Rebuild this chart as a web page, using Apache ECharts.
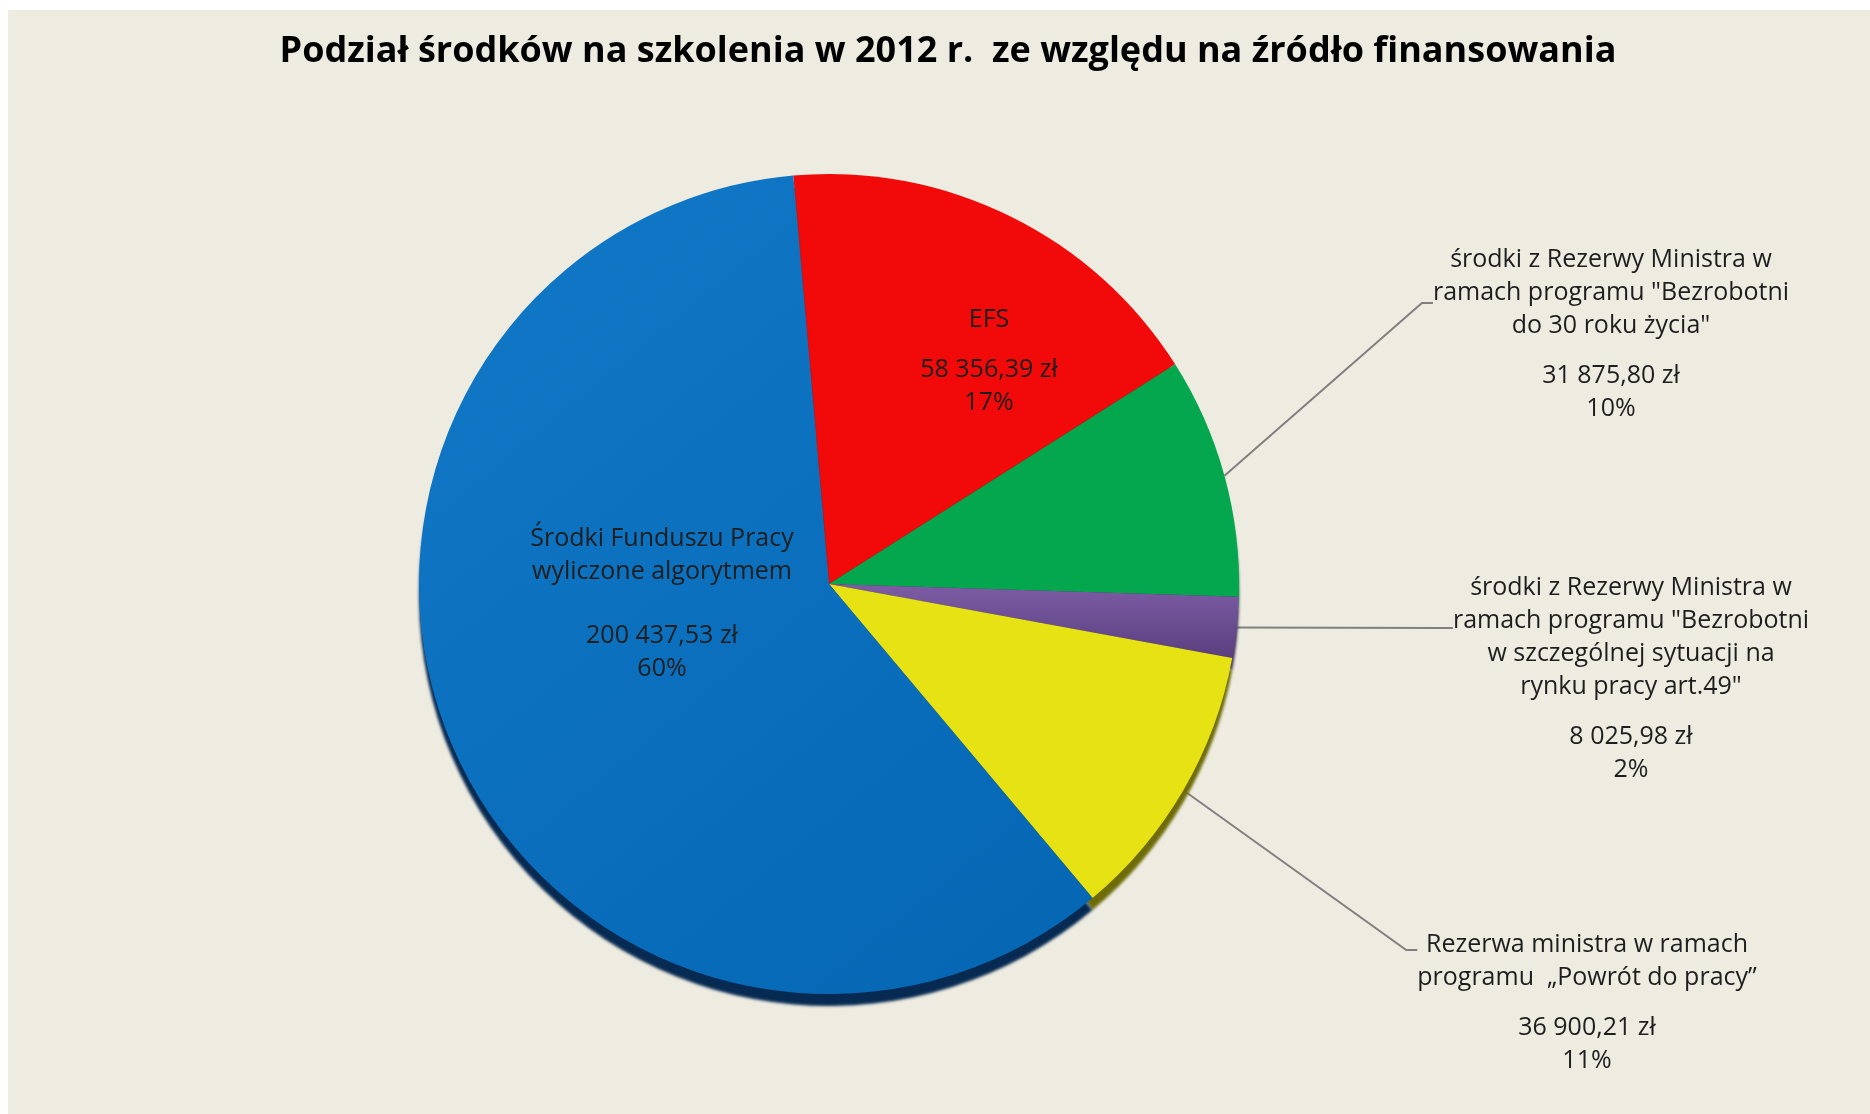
<!DOCTYPE html>
<html>
<head>
<meta charset="utf-8">
<script src="https://cdn.jsdelivr.net/npm/echarts@6/dist/echarts.min.js"></script>
<style>
html,body{margin:0;padding:0;background:#ffffff;width:1870px;height:1114px;overflow:hidden}
#bg{position:absolute;left:8px;top:10px;right:0;bottom:0;background:#eeece1}
#chart{position:absolute;left:0;top:0;width:1870px;height:1114px}
</style>
</head>
<body>
<div id="bg"></div>
<div id="chart"></div>
<script>
// ---- data ----
const titleText = 'Podział środków na szkolenia w 2012 r.  ze względu na źródło finansowania';
const categories = [
  'EFS',
  'środki z Rezerwy Ministra w ramach programu "Bezrobotni do 30 roku życia"',
  'środki z Rezerwy Ministra w ramach programu "Bezrobotni w szczególnej sytuacji na rynku pracy art.49"',
  'Rezerwa ministra w ramach programu „Powrót do pracy”',
  'Środki Funduszu Pracy wyliczone algorytmem'
];
const nameLines = [
  ['EFS'],
  ['środki z Rezerwy Ministra w', 'ramach programu "Bezrobotni', 'do 30 roku życia"'],
  ['środki z Rezerwy Ministra w', 'ramach programu "Bezrobotni', 'w szczególnej sytuacji na', 'rynku pracy art.49"'],
  ['Rezerwa ministra w ramach', 'programu  „Powrót do pracy”'],
  ['Środki Funduszu Pracy', 'wyliczone algorytmem']
];
const values = [58356.39, 31875.80, 8025.98, 36900.21, 200437.53];

// ---- style / layout ----
const sliceColors = [
  '#f20a0a',
  '#04a64e',
  {type:'linear', x:0, y:0, x2:0, y2:1, colorStops:[{offset:0, color:'#7d5ca5'}, {offset:1, color:'#5a3f80'}]},
  '#e6e214',
  {type:'linear', x:0, y:0, x2:1, y2:1, colorStops:[{offset:0, color:'#1179c8'}, {offset:1, color:'#0566b3'}]}
];
const rimColors = ['#7a0505', '#02532a', '#3a2856', '#6e6c08', '#062a52'];
const insideLabel = [true, false, false, false, true];
const blankBig = [false, false, false, false, true];
// label layout: [x, y (leader-line attach / box middle), align, extra top padding]
const labelAnchors = [
  [989, 361, 'center', 0],
  [1611, 303, 'center', 62],
  [1631, 628, 'center', 101],
  [1587, 950, 'center', 106],
  [662, 604, 'center', 0]
];

function fmtPLN(v) {
  const parts = v.toFixed(2).split('.');
  const intPart = parts[0].replace(/\B(?=(\d{3})+(?!\d))/g, ' ');
  return intPart + ',' + parts[1] + ' zł';
}

const chart = echarts.init(document.getElementById('chart'), null, {renderer: 'canvas'});

const textFont = 'Open Sans';
const option = {
  backgroundColor: 'transparent',
  animation: false,
  title: {
    text: titleText,
    left: 948,
    textAlign: 'center',
    top: 34,
    padding: 0,
    textStyle: {fontFamily: textFont, fontWeight: 'bold', fontSize: 36, color: '#000000'}
  },
  series: [{
    type: 'pie',
    center: [829, 584],
    radius: [0, 410],
    startAngle: 95,
    clockwise: true,
    percentPrecision: 0,
    avoidLabelOverlap: false,
    silent: true,
    itemStyle: {borderWidth: 0, shadowBlur: 3, shadowOffsetY: 12, shadowOffsetX: 0},
    label: {
      fontFamily: textFont,
      fontSize: 25,
      color: '#1e1e1e',
      formatter: function (p) {
        const i = p.dataIndex;
        const lines = nameLines[i].map(function (t) { return '{c|' + t + '}'; });
        lines.push(blankBig[i] ? '{b| }' : '{s| }');
        lines.push('{c|' + fmtPLN(values[i]) + '}');
        lines.push('{c|' + p.percent + '%}');
        return lines.join('\n');
      },
      rich: {
        c: {fontFamily: textFont, fontSize: 25, lineHeight: 33, align: 'center', color: '#1e1e1e'},
        s: {fontSize: 8, lineHeight: 17},
        b: {fontSize: 8, lineHeight: 31}
      }
    },
    labelLine: {
      show: true,
      length: 10,
      length2: 11,
      smooth: false,
      lineStyle: {color: '#808080', width: 2}
    },
    labelLayout: function (p) {
      const a = labelAnchors[p.dataIndex];
      return {x: a[0], y: a[1], align: a[2], verticalAlign: 'middle'};
    },
    data: values.map(function (v, i) {
      return {
        name: categories[i],
        value: v,
        itemStyle: {color: sliceColors[i], shadowColor: rimColors[i]},
        label: {
          position: insideLabel[i] ? 'inside' : 'outside',
          padding: [labelAnchors[i][3], 0, 0, 0],
          backgroundColor: 'rgba(0,0,0,0)'
        },
        labelLine: {show: !insideLabel[i]}
      };
    })
  }]
};
chart.setOption(option);
</script>
</body>
</html>
